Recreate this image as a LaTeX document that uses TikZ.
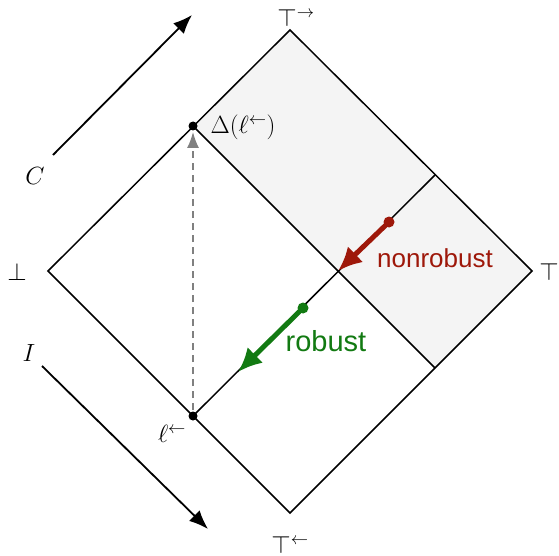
\documentclass[tikz,border=0pt]{standalone}
\usepackage{fontspec}
\newfontfamily\sflab{Liberation Sans}
\usetikzlibrary{arrows.meta}
\definecolor{nrred}{RGB}{158,24,10}
\definecolor{rbgreen}{RGB}{18,122,18}
\definecolor{regiongray}{RGB}{244,244,244}
\begin{document}
\begin{tikzpicture}[x=1pt,y=-1pt,
  lab/.style={font=\fontsize{24}{28}\selectfont, inner sep=0pt},
  biglab/.style={font=\fontsize{28}{32}\selectfont, inner sep=0pt},
  sflabel/.style={font=\sflab\fontsize{26}{30}\selectfont, inner sep=0pt},
  edge/.style={line width=1.5pt, line join=miter},
  bigarrow/.style={line width=1.8pt, -{Latex[length=19pt,width=15pt]}},
  thick arrow/.style={line width=5pt, -{Latex[length=24pt,width=22pt]}},
  dot/.style={circle, fill, inner sep=0pt, minimum size=9pt}]
\useasboundingbox (0,0) rectangle (559,556);
\coordinate (T) at (290,30);
\coordinate (L) at (48,271);
\coordinate (R) at (532,271);
\coordinate (B) at (290,513);
\coordinate (D) at (193,126);
\coordinate (E) at (193,416);
\coordinate (P) at (435,368);
\coordinate (Q) at (435,175);
\coordinate (X) at (338,271);
% shaded region
\fill[regiongray] (T) -- (R) -- (P) -- (D) -- cycle;
% diamond and inner lines
\draw[edge] (T) -- (R) -- (B) -- (L) -- cycle;
\draw[edge] (D) -- (P);
\draw[edge] (E) -- (Q);
% dashed arrow
\draw[gray, dashed, dash pattern=on 7pt off 5pt, line width=1.4pt, -{Latex[length=16pt,width=12pt]}, shorten >=6pt, shorten <=6pt] (E) -- (D);
\node[dot] (dD) at (D) {};
\node[dot] (dE) at (E) {};
% red arrow
\coordinate (rs) at (389,222);
\draw[nrred, thick arrow] (rs) -- (X);
\node[dot, nrred, minimum size=11pt] (rdot) at (rs) {};
% green arrow
\coordinate (gs) at (303,308);
\coordinate (ge) at (238,372);
\draw[rbgreen, thick arrow] (gs) -- (ge);
\node[dot, rbgreen, minimum size=11pt] (gdot) at (gs) {};
% text labels
\node[sflabel, text=nrred] (nonrob) at (435,258) {nonrobust};
\node[sflabel, text=rbgreen, font=\sflab\fontsize{29}{33}\selectfont] (rob) at (326,341) {robust};
% axis arrows
\coordinate (cs) at (53,155);
\coordinate (ce) at (192,15);
\draw[bigarrow] (cs) -- (ce);
\coordinate (is) at (42,366);
\coordinate (ie) at (208,529);
\draw[bigarrow] (is) -- (ie);
\node[biglab] (C) at (35,176) {$C$};
\node[biglab] (I) at (29,353) {$I$};
% math labels
\node[lab] (top) at (296,18) {$\top^{\rightarrow}$};
\node[lab] (bot) at (290,545) {$\top^{\leftarrow}$};
\node[lab] (rtop) at (549,272) {$\top$};
\node[lab] (lbot) at (17,272) {$\bot$};
\node[lab] (delta) at (243,127) {$\Delta(\ell^{\leftarrow})$};
\node[lab] (ell) at (172,434) {$\ell^{\leftarrow}$};
\end{tikzpicture}
\end{document}
